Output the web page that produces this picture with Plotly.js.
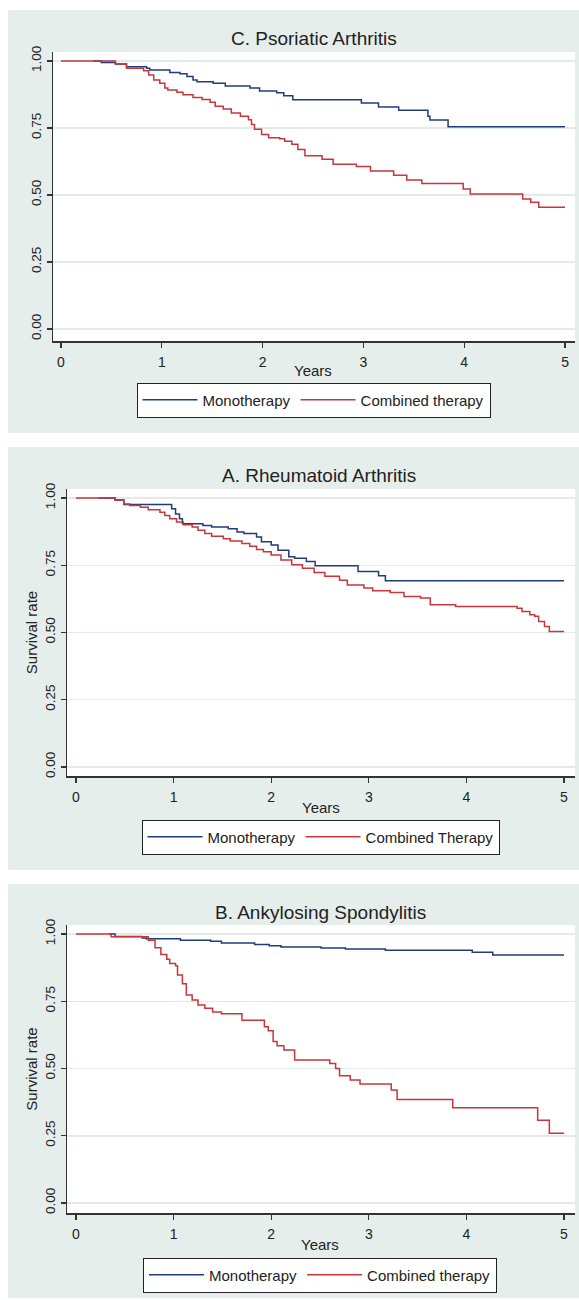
<!DOCTYPE html>
<html><head><meta charset="utf-8">
<script src="https://cdn.plot.ly/plotly-3.0.1.min.js"></script>
<style>html,body{margin:0;padding:0;background:#fff}</style>
</head><body><div id="chart" style="width:579px;height:1300px"></div>
<script>
// ---------- Data ----------
const xTicks = [0, 1, 2, 3, 4, 5];
const yTicks = [0, 0.25, 0.5, 0.75, 1];
const yTickText = ['0.00', '0.25', '0.50', '0.75', '1.00'];

// C. Psoriatic Arthritis
const psaMonoT = [0.32, 0.40, 0.54, 0.65, 0.85, 0.88, 1.08, 1.18, 1.25, 1.31, 1.35, 1.51, 1.63, 1.875, 1.97, 2.14, 2.21, 2.30, 2.98, 3.15, 3.35, 3.64, 3.66, 3.84, 5.00];
const psaMonoS = [1.000, 0.994, 0.989, 0.979, 0.973, 0.966, 0.957, 0.952, 0.942, 0.929, 0.923, 0.917, 0.907, 0.899, 0.888, 0.882, 0.870, 0.855, 0.843, 0.828, 0.816, 0.794, 0.780, 0.755, 0.755];
const psaCombT = [0, 0.54, 0.65, 0.82, 0.87, 0.92, 0.98, 1.03, 1.06, 1.15, 1.21, 1.31, 1.40, 1.48, 1.53, 1.61, 1.69, 1.78, 1.86, 1.89, 1.92, 1.99, 2.06, 2.17, 2.22, 2.29, 2.35, 2.42, 2.59, 2.70, 2.93, 3.07, 3.30, 3.43, 3.58, 3.99, 4.06, 4.58, 4.66, 4.74, 5.00];
const psaCombS = [1.000, 0.989, 0.973, 0.964, 0.948, 0.929, 0.917, 0.899, 0.892, 0.883, 0.874, 0.864, 0.856, 0.846, 0.831, 0.821, 0.806, 0.794, 0.781, 0.763, 0.745, 0.726, 0.714, 0.710, 0.701, 0.689, 0.670, 0.646, 0.633, 0.615, 0.606, 0.590, 0.574, 0.556, 0.543, 0.522, 0.504, 0.485, 0.473, 0.454, 0.454];

// A. Rheumatoid Arthritis
const raMonoT = [0.23, 0.40, 0.49, 0.98, 1.02, 1.06, 1.09, 1.30, 1.39, 1.56, 1.65, 1.72, 1.85, 1.90, 2.00, 2.07, 2.18, 2.24, 2.36, 2.45, 2.89, 3.10, 3.17, 5.00];
const raMonoS = [1.000, 0.993, 0.976, 0.960, 0.941, 0.923, 0.904, 0.898, 0.892, 0.886, 0.874, 0.868, 0.855, 0.837, 0.825, 0.806, 0.782, 0.776, 0.764, 0.748, 0.727, 0.711, 0.692, 0.692];
const raCombT = [0, 0.40, 0.49, 0.55, 0.66, 0.74, 0.86, 0.91, 0.96, 1.03, 1.10, 1.19, 1.25, 1.32, 1.39, 1.51, 1.58, 1.70, 1.78, 1.85, 1.92, 2.00, 2.10, 2.21, 2.32, 2.44, 2.55, 2.70, 2.78, 2.95, 3.04, 3.22, 3.36, 3.53, 3.63, 3.89, 4.52, 4.57, 4.65, 4.70, 4.74, 4.80, 4.85, 5.00];
const raCombS = [1.000, 0.993, 0.978, 0.972, 0.966, 0.956, 0.947, 0.935, 0.923, 0.911, 0.901, 0.892, 0.880, 0.868, 0.858, 0.849, 0.840, 0.831, 0.821, 0.809, 0.800, 0.788, 0.770, 0.752, 0.739, 0.723, 0.709, 0.694, 0.677, 0.665, 0.655, 0.649, 0.634, 0.628, 0.603, 0.597, 0.590, 0.578, 0.566, 0.560, 0.541, 0.522, 0.504, 0.504];

// B. Ankylosing Spondylitis
const asMonoT = [0.34, 0.40, 0.68, 0.72, 1.07, 1.38, 1.49, 1.83, 1.98, 2.10, 2.51, 2.76, 3.17, 4.06, 4.27, 5.00];
const asMonoS = [1.000, 0.991, 0.985, 0.982, 0.977, 0.973, 0.967, 0.961, 0.956, 0.952, 0.948, 0.944, 0.940, 0.932, 0.922, 0.922];
const asCombT = [0, 0.36, 0.74, 0.81, 0.87, 0.93, 0.96, 1.02, 1.04, 1.09, 1.13, 1.19, 1.25, 1.32, 1.40, 1.49, 1.70, 1.93, 1.97, 2.02, 2.06, 2.13, 2.24, 2.60, 2.66, 2.70, 2.81, 2.91, 3.23, 3.29, 3.86, 4.73, 4.85, 5.00];
const asCombS = [1.000, 0.990, 0.977, 0.949, 0.924, 0.906, 0.890, 0.882, 0.848, 0.815, 0.773, 0.755, 0.736, 0.724, 0.710, 0.704, 0.679, 0.655, 0.640, 0.600, 0.585, 0.569, 0.532, 0.519, 0.500, 0.473, 0.457, 0.442, 0.420, 0.385, 0.354, 0.308, 0.259, 0.259];

const panelTitles = ['C. Psoriatic Arthritis', 'A. Rheumatoid Arthritis', 'B. Ankylosing Spondylitis'];
const monoName = 'Monotherapy';
const combNames = ['Combined therapy', 'Combined Therapy', 'Combined therapy'];
const xTitle = 'Years';
const yTitle = 'Survival rate';

// ---------- Layout helpers ----------
const W = 579, H = 1300;
const px = v => v / W;
const py = v => 1 - v / H;
const FONT = '"Liberation Sans", Arial, Helvetica, sans-serif';
const BLUE = '#1f3d7a', RED = '#c6363b';
const PANEL = '#e6eeeb', GRID = '#e2ebe8', INK = '#222222';

function trace(x, y, name, color, n, leg) {
  return {x: x, y: y, name: name, type: 'scatter', mode: 'lines',
    line: {shape: 'hv', color: color, width: 1.5},
    xaxis: n === 1 ? 'x' : 'x' + n, yaxis: n === 1 ? 'y' : 'y' + n,
    legend: leg, hoverinfo: 'skip'};
}

const data = [
  trace(psaMonoT, psaMonoS, monoName, BLUE, 1, 'legend'),
  trace(psaCombT, psaCombS, combNames[0], RED, 1, 'legend'),
  trace(raMonoT, raMonoS, monoName, BLUE, 2, 'legend2'),
  trace(raCombT, raCombS, combNames[1], RED, 2, 'legend2'),
  trace(asMonoT, asMonoS, monoName, BLUE, 3, 'legend3'),
  trace(asCombT, asCombS, combNames[2], RED, 3, 'legend3')
];

function xAxis(dom, range, anchor) {
  return {domain: dom, range: range, anchor: anchor, tickvals: xTicks,
    ticks: 'outside', ticklen: 5, tickwidth: 1.3, tickcolor: '#333',
    showline: true, linecolor: '#333', linewidth: 1.5,
    showgrid: false, zeroline: false, fixedrange: true,
    tickfont: {size: 14, color: INK}, ticklabelstandoff: 3};
}
function yAxis(dom, range, anchor, withTitle) {
  const a = {domain: dom, range: range, anchor: anchor, tickvals: yTicks, ticktext: yTickText,
    tickangle: -90, ticks: 'outside', ticklen: 5, tickwidth: 1.3, tickcolor: '#333',
    showline: true, linecolor: '#333', linewidth: 1.5,
    showgrid: true, gridcolor: GRID, gridwidth: 1.5, zeroline: false, fixedrange: true,
    tickfont: {size: 13.5, color: INK}};
  if (withTitle) a.title = {text: yTitle, font: {size: 15, color: INK}, standoff: 2};
  return a;
}

function legendAt(cx, cy) {
  return {x: px(cx), y: py(cy), xanchor: 'center', yanchor: 'middle', orientation: 'h',
    bgcolor: '#ffffff', bordercolor: '#222', borderwidth: 1,
    font: {size: 15, color: INK}, itemwidth: 55, traceorder: 'normal'};
}

function textAnn(text, cx, cy, size) {
  return {text: text, x: px(cx), y: py(cy), xref: 'paper', yref: 'paper', showarrow: false,
    xanchor: 'center', yanchor: 'middle', font: {size: size, color: INK}};
}

function whiteRect(x0, x1, y0, y1) {
  return {type: 'rect', xref: 'paper', yref: 'paper', x0: px(x0), x1: px(x1), y0: py(y1), y1: py(y0),
    fillcolor: '#ffffff', line: {width: 0}, layer: 'below'};
}

const layout = {
  width: W, height: H, margin: {l: 0, r: 0, t: 0, b: 0},
  paper_bgcolor: PANEL, plot_bgcolor: '#ffffff',
  font: {family: FONT, color: INK},
  showlegend: true,
  xaxis: xAxis([px(53), px(575)], [-0.079, 5.099], 'y'),
  yaxis: yAxis([py(341), py(52)], [-0.0448, 1.0336], 'x', false),
  xaxis2: xAxis([px(67), px(575)], [-0.0922, 5.1127], 'y2'),
  yaxis2: yAxis([py(776), py(489)], [-0.0335, 1.0335], 'x2', true),
  xaxis3: xAxis([px(67), px(575)], [-0.0922, 5.1127], 'y3'),
  yaxis3: yAxis([py(1213), py(925)], [-0.0372, 1.0335], 'x3', true),
  legend: legendAt(313.5, 400),
  legend2: legendAt(320.5, 837),
  legend3: legendAt(320, 1275),
  annotations: [
    textAnn(panelTitles[0], 314, 38, 19),
    textAnn(panelTitles[1], 319, 475, 19),
    textAnn(panelTitles[2], 320, 912, 19),
    textAnn(xTitle, 313, 370, 15),
    textAnn(xTitle, 320.5, 807, 15),
    textAnn(xTitle, 320, 1244, 15)
  ],
  shapes: [
    whiteRect(0, 579, 0, 10),
    whiteRect(0, 8, 0, 1300),
    whiteRect(0, 579, 433, 447),
    whiteRect(0, 579, 870, 884),
    whiteRect(0, 579, 1298, 1300)
  ]
};

Plotly.newPlot('chart', data, layout, {displayModeBar: false, staticPlot: true});
</script>
</body></html>
